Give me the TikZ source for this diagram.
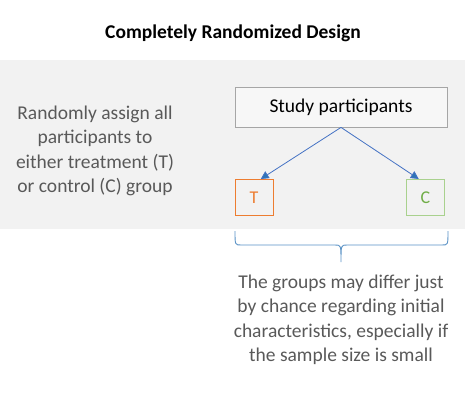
\documentclass[tikz,border=0pt]{standalone}
\usepackage{fontspec}
\setmainfont{Carlito}
\usetikzlibrary{arrows.meta}
\definecolor{band}{RGB}{242,242,242}
\definecolor{boxline}{RGB}{166,166,166}
\definecolor{txtgray}{RGB}{89,89,89}
\definecolor{arrblue}{RGB}{68,114,196}
\definecolor{tipblue}{RGB}{46,117,182}
\definecolor{treatorange}{RGB}{237,125,49}
\definecolor{grnline}{RGB}{169,209,142}
\definecolor{grntxt}{RGB}{112,173,71}
\tikzset{
  grouparrow/.style={draw=arrblue, line width=0.8pt, -{Triangle[width=8pt,length=8pt,fill=tipblue]}},
  groupbox/.style={draw, line width=1pt, minimum width=38pt, minimum height=36pt, inner sep=0pt, font=\fontsize{18}{20}\selectfont},
  graytext/.style={text=txtgray, align=center, font=\fontsize{19.5}{24.5}\selectfont}
}
\begin{document}
\begin{tikzpicture}[x=1pt,y=-1pt]
\useasboundingbox (0,0) rectangle (474,400);
\fill[band] (0,60) rectangle (465,229);
\node[font=\bfseries\fontsize{19.5}{22}\selectfont] (title) at (233,33) {Completely Randomized Design};
\node[graytext] (left) at (95,151) {Randomly assign all\\participants to\\either treatment (T)\\or control (C) group};
\node[draw=boxline, fill=band!60!white, line width=0.8pt, minimum width=212pt, minimum height=40pt, inner sep=0pt, font=\fontsize{19.5}{22}\selectfont] (sp) at (341,107) {Study participants};
\node[groupbox, color=treatorange] (T) at (254,197.5) {T};
\node[groupbox, draw=grnline, text=grntxt] (C) at (425.5,197.5) {C};
\draw[grouparrow] (sp.south) -- (T.70);
\draw[grouparrow] (sp.south) -- (C.110);
\coordinate (bl) at (235,231);
\coordinate (br) at (448,231);
\coordinate (btip) at (341,262);
\draw[tipblue!80, line width=0.9pt] (bl) .. controls (235,245) .. (241,245) -- (335,245) .. controls (341,245) .. (btip) .. controls (341,245) .. (347,245) -- (442,245) .. controls (448,245) .. (br);
\node[graytext] (note) at (341,320) {The groups may differ just\\by chance regarding initial\\characteristics, especially if\\the sample size is small};
\end{tikzpicture}
\end{document}
